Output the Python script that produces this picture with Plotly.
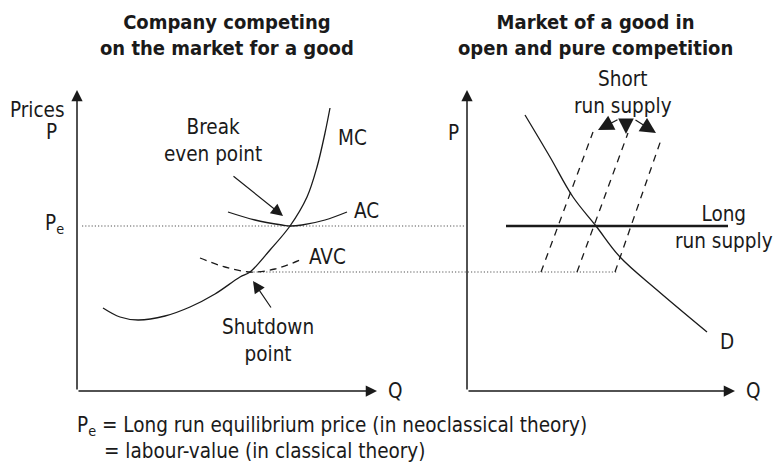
import plotly.graph_objects as go

FONT = "DejaVu Sans Condensed, DejaVu Sans"
INK = "#1a1a1a"

# ---------------- data (panel coordinates: Q to the right, P upward) -------------
# Left panel: the firm
mc_q = [26, 43, 61, 88, 113, 138, 163, 173, 193, 213, 230, 240, 248, 253]
mc_p = [83, 74, 71, 75, 84, 97, 114, 119, 141, 165, 194, 224, 258, 283]
ac_q = [151, 178, 205, 213, 225, 248, 270]
ac_p = [179, 171, 166, 165, 166, 171, 179]
avc_q = [123, 148, 173, 198, 223]
avc_p = [133, 124, 119, 122, 131]
pe_price = 165          # long-run equilibrium price
shutdown_price = 119    # minimum of AVC
pe_line_q = [5, 388]
shutdown_line_q = [170, 540]

# Right panel: the market
d_q = [58, 83, 106, 129, 153, 190, 240]
d_p = [276, 234, 194, 165, 134, 101, 59]
lrs_q = [39, 261]
sr_bottom_q = [74, 110, 148]
sr_top_q = [126, 161, 195]
sr_top_p = [259, 258, 254]

axis_len_left = (300, 301)
axis_len_right = (268, 301)

fig = go.Figure()

def line(xs, ys, xaxis="x", width=1.3, dash="solid", color=INK, shape="spline"):
    fig.add_trace(go.Scatter(x=xs, y=ys, mode="lines", xaxis=xaxis, yaxis="y",
                             line=dict(color=color, width=width, dash=dash, shape=shape,
                                       smoothing=1.0),
                             hoverinfo="skip", showlegend=False))

# dotted guide lines
line(pe_line_q, [pe_price, pe_price], dash="1.2px,2px", color="#555", width=1.1, shape="linear")
line(shutdown_line_q, [shutdown_price, shutdown_price], dash="1.2px,2px", color="#555", width=1.1, shape="linear")

# firm curves
line(mc_q, mc_p)
line(ac_q, ac_p)
line(avc_q, avc_p, dash="7px,5px")

# market curves
line(d_q, d_p, xaxis="x2")
line(lrs_q, [pe_price, pe_price], xaxis="x2", width=2.6, shape="linear")
for b, t, tp in zip(sr_bottom_q, sr_top_q, sr_top_p):
    line([b, t], [shutdown_price, tp], xaxis="x2", dash="7px,6px", shape="linear")

ann = []

def arrow(x, y, ax, ay, xref="x", width=1.5, size=1.4):
    ann.append(dict(x=x, y=y, ax=ax, ay=ay, xref=xref, yref="y", axref=xref, ayref="y",
                    text="", showarrow=True, arrowhead=2, arrowsize=size,
                    arrowwidth=width, arrowcolor=INK, standoff=0, startstandoff=0))

def label(x, y, text, xref="x", size=20.5, xanchor="center", align="center"):
    ann.append(dict(x=x, y=y, xref=xref, yref="y", text=text, showarrow=False,
                    xanchor=xanchor, yanchor="middle", align=align,
                    font=dict(family=FONT, size=size, color=INK)))

# axes
arrow(0, axis_len_left[1], 0, 0, size=1.5)
arrow(axis_len_left[0], 0, 0, 0, size=1.5)
arrow(0, axis_len_right[1], 0, 0, xref="x2", size=1.5)
arrow(axis_len_right[0], 0, 0, 0, xref="x2", size=1.5)

# pointers
arrow(206, 175, 155, 216, width=1.2, size=2.0)   # break even
arrow(176, 110, 195, 82, width=1.2, size=2.0)    # shutdown
arrow(131, 261, 152, 272, xref="x2", width=1.2, size=2.6)
arrow(159, 257, 159, 272, xref="x2", width=1.2, size=2.6)
arrow(189, 258, 167, 272, xref="x2", width=1.2, size=2.6)

# titles
label(150, 356, "<b>Company competing<br>on the market for a good</b>", size=20)
label(128, 356, "<b>Market of a good in<br>open and pure competition</b>", xref="x2", size=20)

# left panel labels
label(-40, 281, "Prices")
label(-26, 259, "P")
label(-11, 167, "P<sub>e</sub>", xanchor="right")
label(136, 251, "Break<br>even point")
label(275, 253, "MC")
label(289, 180, "AC")
label(250, 134, "AVC")
label(191, 51, "Shutdown<br>point")
label(318, 0, "Q")

# right panel labels
label(-14, 258, "P", xref="x2")
label(156, 299, "Short<br>run supply", xref="x2")
label(257, 164, "Long<br>run supply", xref="x2")
label(260, 49, "D", xref="x2")
label(286, 0, "Q", xref="x2")

# footnote
label(-2, -35, "P<sub>e</sub> = Long run equilibrium price (in neoclassical theory)", xanchor="left")
label(25, -60, "= labour-value (in classical theory)", xanchor="left")

fig.update_layout(
    width=775, height=463, margin=dict(l=0, r=0, t=0, b=0),
    paper_bgcolor="white", plot_bgcolor="white",
    xaxis=dict(range=[-77, 698], visible=False, fixedrange=True),
    xaxis2=dict(range=[-467, 308], visible=False, overlaying="x", fixedrange=True),
    yaxis=dict(range=[-72, 391], visible=False, fixedrange=True),
    annotations=ann, showlegend=False,
)

fig.write_html("out.html", post_script="document.body.style.margin='0';",
               config={"displayModeBar": False})
